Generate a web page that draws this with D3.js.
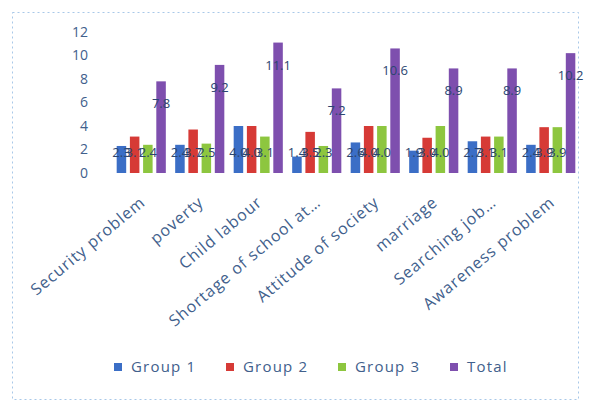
<!DOCTYPE html>
<html>
<head>
<meta charset="utf-8">
<script src="https://cdn.jsdelivr.net/npm/d3@7"></script>
<style>
  body { margin: 0; background: #fff; }
  svg { display: block; font-family: "Open Sans", "DejaVu Sans", sans-serif; }
</style>
</head>
<body>
<div id="chart"></div>
<script>
var categories = ["Security problem", "poverty", "Child labour", "Shortage of school at\u2026",
    "Attitude of society", "marriage", "Searching job\u2026", "Awareness problem"];
var seriesNames = ["Group 1", "Group 2", "Group 3", "Total"];
var group1 = [2.3, 2.4, 4.0, 1.4, 2.6, 1.9, 2.7, 2.4];
var group2 = [3.1, 3.7, 4.0, 3.5, 4.0, 3.0, 3.1, 3.9];
var group3 = [2.4, 2.5, 3.1, 2.3, 4.0, 4.0, 3.1, 3.9];
var total = [7.8, 9.2, 11.1, 7.2, 10.6, 8.9, 8.9, 10.2];
var yTicks = [0, 2, 4, 6, 8, 10, 12];
var colors = ["#3b6ec6", "#d63a36", "#8dc63f", "#7e4fae"];

var width = 600, height = 401;

var svg = d3.select("#chart").append("svg").attr("width", width).attr("height", height);

// dotted chart border
svg.append("rect").attr("x", 12.5).attr("y", 12.5).attr("width", 566).attr("height", 387)
    .attr("fill", "none").attr("stroke", "#a9c8e8").attr("stroke-dasharray", "2,3");

var values = [group1, group2, group3, total];
var data = categories.map(function (c, i) {
    return {cat: c, vals: seriesNames.map(function (s, j) { return {name: s, idx: j, value: values[j][i]}; })};
});

var x = d3.scaleBand().domain(categories).range([112, 580]).paddingInner(0.16).paddingOuter(0.08);
var x1 = d3.scaleBand().domain(seriesNames).range([0, x.bandwidth()]).paddingInner(0.28);
var y = d3.scaleLinear().domain([0, 12]).range([173, 32]);

// Y axis labels only
var yAxis = svg.append("g").attr("transform", "translate(92,0)")
    .call(d3.axisLeft(y).tickValues(yTicks).tickSize(0).tickPadding(4));
yAxis.select(".domain").remove();
yAxis.selectAll("text").attr("fill", "#41608c").style("font-size", "14px")
    .style("font-family", "'Open Sans', sans-serif");

// bars
var groups = svg.selectAll(".grp").data(data).enter().append("g").attr("class", "grp")
    .attr("transform", function (d) { return "translate(" + x(d.cat) + ",0)"; });

groups.selectAll("rect").data(function (d) { return d.vals; }).enter().append("rect")
    .attr("x", function (d) { return x1(d.name); })
    .attr("y", function (d) { return y(d.value); })
    .attr("width", x1.bandwidth())
    .attr("height", function (d) { return y(0) - y(d.value); })
    .style("fill", function (d) { return colors[d.idx]; });

// data labels (they overlap in the original too)
groups.selectAll("text").data(function (d) { return d.vals; }).enter().append("text")
    .attr("x", function (d) { return x1(d.name) + x1.bandwidth() / 2; })
    .attr("y", function (d) { return d.idx === 3 ? y(d.value) + 27 : y(0) - 16; })
    .attr("text-anchor", "middle")
    .attr("fill", "#2c4670")
    .style("font-size", "13px")
    .text(function (d) { return d.value.toFixed(1); });

// x category labels, rotated
svg.append("g").selectAll("text").data(categories).enter().append("text")
    .attr("transform", function (d) {
        return "translate(" + (x(d) + x.bandwidth() / 2 + 5) + ",204) rotate(-40)";
    })
    .attr("text-anchor", "end")
    .attr("fill", "#41608c")
    .style("font-size", "16px")
    .style("letter-spacing", "1px")
    .text(function (d) { return d; });

// legend
var legend = svg.selectAll(".legend").data(seriesNames).enter().append("g").attr("class", "legend")
    .attr("transform", function (d, i) { return "translate(" + (114 + i * 112) + ",363)"; });
legend.append("rect").attr("width", 8).attr("height", 8)
    .style("fill", function (d, i) { return colors[i]; });
legend.append("text").attr("x", 17).attr("y", 4).attr("dy", ".35em")
    .attr("fill", "#41608c").style("font-size", "15px").style("letter-spacing", "1.2px")
    .text(function (d) { return d; });
</script>
</body>
</html>
